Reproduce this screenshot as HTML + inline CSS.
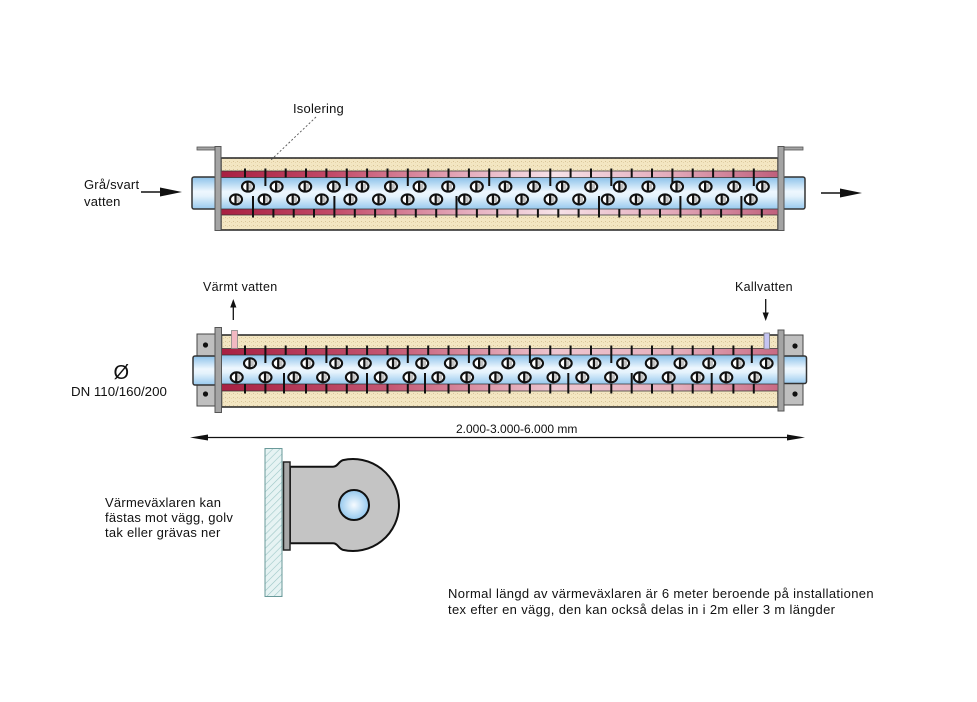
<!DOCTYPE html>
<html><head><meta charset="utf-8"><style>
html,body{margin:0;padding:0;background:#fff;}
svg{display:block;}
text{font-family:"Liberation Sans",Arial,sans-serif;fill:#111;}
</style></head><body>
<svg width="977" height="702" viewBox="0 0 977 702" xmlns="http://www.w3.org/2000/svg">
<defs>
<pattern id="ins" width="4" height="4" patternUnits="userSpaceOnUse"><rect width="4" height="4" fill="#f3e6c2"/><rect x="1" y="1" width="1" height="1" fill="#d8c498"/><rect x="3" y="2" width="1" height="1" fill="#e6d4aa"/></pattern>
<pattern id="hatch" width="5" height="5" patternUnits="userSpaceOnUse" patternTransform="rotate(45)"><rect width="5" height="5" fill="#e6f3f3"/><line x1="0" y1="0" x2="0" y2="5" stroke="#9cc6c6" stroke-width="1.2"/></pattern>
<linearGradient id="blue" x1="0" y1="0" x2="0" y2="1"><stop offset="0" stop-color="#8cc2ea"/><stop offset="0.45" stop-color="#eef7fe"/><stop offset="0.6" stop-color="#e4f2fc"/><stop offset="1" stop-color="#98c9ee"/></linearGradient>
<linearGradient id="band1" x1="221" y1="0" x2="778" y2="0" gradientUnits="userSpaceOnUse"><stop offset="0" stop-color="#a82042"/><stop offset="0.2" stop-color="#c24a68"/><stop offset="0.45" stop-color="#e6b0c0"/><stop offset="0.6" stop-color="#f6e2e8"/><stop offset="0.8" stop-color="#e4adbd"/><stop offset="1" stop-color="#c0607c"/></linearGradient>
<linearGradient id="band2" x1="221" y1="0" x2="778" y2="0" gradientUnits="userSpaceOnUse"><stop offset="0" stop-color="#a82042"/><stop offset="0.3" stop-color="#c45672"/><stop offset="0.6" stop-color="#eec6d0"/><stop offset="0.82" stop-color="#e4aebc"/><stop offset="1" stop-color="#c86a84"/></linearGradient>
<radialGradient id="hole" cx="0.5" cy="0.5" r="0.5"><stop offset="0" stop-color="#f6fbff"/><stop offset="1" stop-color="#94c8ee"/></radialGradient>
<g id="h"><ellipse cx="0" cy="0" rx="6" ry="5" fill="#fff" stroke="#111" stroke-width="2.1"/><rect x="0.6" y="-3" width="3.2" height="6" fill="#c4c4c4"/><line x1="-0.5" y1="-4.8" x2="-0.5" y2="4.8" stroke="#111" stroke-width="2.2"/></g>
</defs>

<!-- ============ TOP EXCHANGER ============ -->
<rect x="221" y="158" width="557" height="72" fill="url(#ins)" stroke="#222" stroke-width="1.5"/>
<rect x="221" y="171" width="557" height="6.5" fill="url(#band1)"/>
<rect x="221" y="177.5" width="557" height="31.5" fill="url(#blue)"/>
<rect x="221" y="209" width="557" height="6" fill="url(#band1)"/>
<g stroke="#333" stroke-width="0.8"><line x1="221" y1="171" x2="778" y2="171"/><line x1="221" y1="177.5" x2="778" y2="177.5"/><line x1="221" y1="209" x2="778" y2="209"/><line x1="221" y1="215" x2="778" y2="215"/></g>
<g stroke="#111" stroke-width="2">
<line x1="245" y1="168.5" x2="245" y2="177.5"/><line x1="265.4" y1="168.5" x2="265.4" y2="186"/><line x1="285.7" y1="168.5" x2="285.7" y2="177.5"/><line x1="306" y1="168.5" x2="306" y2="177.5"/><line x1="326.4" y1="168.5" x2="326.4" y2="177.5"/><line x1="346.8" y1="168.5" x2="346.8" y2="186"/><line x1="367.1" y1="168.5" x2="367.1" y2="177.5"/><line x1="387.5" y1="168.5" x2="387.5" y2="177.5"/><line x1="407.8" y1="168.5" x2="407.8" y2="186"/><line x1="428.2" y1="168.5" x2="428.2" y2="177.5"/><line x1="448.5" y1="168.5" x2="448.5" y2="177.5"/><line x1="468.9" y1="168.5" x2="468.9" y2="177.5"/><line x1="489.2" y1="168.5" x2="489.2" y2="186"/><line x1="509.6" y1="168.5" x2="509.6" y2="177.5"/><line x1="529.9" y1="168.5" x2="529.9" y2="177.5"/><line x1="550.3" y1="168.5" x2="550.3" y2="186"/><line x1="570.6" y1="168.5" x2="570.6" y2="177.5"/><line x1="591" y1="168.5" x2="591" y2="177.5"/><line x1="611.3" y1="168.5" x2="611.3" y2="186"/><line x1="631.7" y1="168.5" x2="631.7" y2="177.5"/><line x1="652" y1="168.5" x2="652" y2="177.5"/><line x1="672.4" y1="168.5" x2="672.4" y2="186"/><line x1="692.7" y1="168.5" x2="692.7" y2="177.5"/><line x1="713.1" y1="168.5" x2="713.1" y2="177.5"/><line x1="733.4" y1="168.5" x2="733.4" y2="177.5"/><line x1="753.8" y1="168.5" x2="753.8" y2="186"/>
<line x1="253" y1="196" x2="253" y2="217.5"/><line x1="273.4" y1="209" x2="273.4" y2="217.5"/><line x1="293.7" y1="209" x2="293.7" y2="217.5"/><line x1="314" y1="209" x2="314" y2="217.5"/><line x1="334.4" y1="196" x2="334.4" y2="217.5"/><line x1="354.8" y1="209" x2="354.8" y2="217.5"/><line x1="375.1" y1="209" x2="375.1" y2="217.5"/><line x1="395.5" y1="209" x2="395.5" y2="217.5"/><line x1="415.8" y1="209" x2="415.8" y2="217.5"/><line x1="436.2" y1="209" x2="436.2" y2="217.5"/><line x1="456.5" y1="196" x2="456.5" y2="217.5"/><line x1="476.9" y1="209" x2="476.9" y2="217.5"/><line x1="497.2" y1="209" x2="497.2" y2="217.5"/><line x1="517.6" y1="209" x2="517.6" y2="217.5"/><line x1="537.9" y1="209" x2="537.9" y2="217.5"/><line x1="558.3" y1="209" x2="558.3" y2="217.5"/><line x1="578.6" y1="209" x2="578.6" y2="217.5"/><line x1="599" y1="196" x2="599" y2="217.5"/><line x1="619.3" y1="209" x2="619.3" y2="217.5"/><line x1="639.7" y1="209" x2="639.7" y2="217.5"/><line x1="660" y1="209" x2="660" y2="217.5"/><line x1="680.4" y1="196" x2="680.4" y2="217.5"/><line x1="700.7" y1="209" x2="700.7" y2="217.5"/><line x1="721.1" y1="209" x2="721.1" y2="217.5"/><line x1="741.4" y1="196" x2="741.4" y2="217.5"/><line x1="761.8" y1="209" x2="761.8" y2="217.5"/>
</g>
<g>
<use href="#h" x="248" y="186.6"/><use href="#h" x="276.6" y="186.6"/><use href="#h" x="305.2" y="186.6"/><use href="#h" x="333.8" y="186.6"/><use href="#h" x="362.4" y="186.6"/><use href="#h" x="391" y="186.6"/><use href="#h" x="419.6" y="186.6"/><use href="#h" x="448.2" y="186.6"/><use href="#h" x="476.8" y="186.6"/><use href="#h" x="505.4" y="186.6"/><use href="#h" x="534" y="186.6"/><use href="#h" x="562.6" y="186.6"/><use href="#h" x="591.2" y="186.6"/><use href="#h" x="619.8" y="186.6"/><use href="#h" x="648.4" y="186.6"/><use href="#h" x="677" y="186.6"/><use href="#h" x="705.6" y="186.6"/><use href="#h" x="734.2" y="186.6"/><use href="#h" x="762.8" y="186.6"/>
<use href="#h" x="236" y="199.4"/><use href="#h" x="264.6" y="199.4"/><use href="#h" x="293.2" y="199.4"/><use href="#h" x="321.8" y="199.4"/><use href="#h" x="350.4" y="199.4"/><use href="#h" x="379" y="199.4"/><use href="#h" x="407.6" y="199.4"/><use href="#h" x="436.2" y="199.4"/><use href="#h" x="464.8" y="199.4"/><use href="#h" x="493.4" y="199.4"/><use href="#h" x="522" y="199.4"/><use href="#h" x="550.6" y="199.4"/><use href="#h" x="579.2" y="199.4"/><use href="#h" x="607.8" y="199.4"/><use href="#h" x="636.4" y="199.4"/><use href="#h" x="665" y="199.4"/><use href="#h" x="693.6" y="199.4"/><use href="#h" x="722.2" y="199.4"/><use href="#h" x="750.8" y="199.4"/>
</g>
<!-- stubs + flanges -->
<rect x="192" y="177" width="24" height="32" rx="2" fill="url(#blue)" stroke="#333" stroke-width="1.5"/>
<rect x="783" y="177" width="22" height="32" rx="2" fill="url(#blue)" stroke="#333" stroke-width="1.5"/>
<rect x="197" y="147" width="20" height="3" fill="#a4a4a4" stroke="#555" stroke-width="0.8"/>
<rect x="782" y="147" width="21" height="3" fill="#a4a4a4" stroke="#555" stroke-width="0.8"/>
<rect x="215" y="146.5" width="6" height="84" fill="#a4a4a4" stroke="#555" stroke-width="1"/>
<rect x="778" y="146.5" width="6" height="84" fill="#a4a4a4" stroke="#555" stroke-width="1"/>
<!-- arrows -->
<line x1="141" y1="192" x2="164" y2="192" stroke="#111" stroke-width="1.4"/>
<polygon points="160,187.5 182,192 160,196.5" fill="#111"/>
<line x1="821" y1="193" x2="844" y2="193" stroke="#111" stroke-width="1.4"/>
<polygon points="840,188.5 862,193 840,197.5" fill="#111"/>
<text x="84" y="189" font-size="13" letter-spacing="0.2">Grå/svart</text>
<text x="84" y="206" font-size="13" letter-spacing="0.2">vatten</text>
<text x="293" y="113" font-size="13" letter-spacing="0.2">Isolering</text>
<line x1="316" y1="117" x2="271" y2="160" stroke="#555" stroke-width="0.9" stroke-dasharray="2,2"/>

<!-- ============ SECOND EXCHANGER ============ -->
<rect x="197" y="334" width="18" height="72" fill="#bfbfbf" stroke="#444" stroke-width="1"/>
<circle cx="205.5" cy="345" r="2.6" fill="#111"/><circle cx="205.5" cy="394" r="2.6" fill="#111"/>
<rect x="784" y="335" width="19" height="70" fill="#bfbfbf" stroke="#444" stroke-width="1"/>
<circle cx="795" cy="346" r="2.6" fill="#111"/><circle cx="795" cy="394" r="2.6" fill="#111"/>
<rect x="221.5" y="335" width="556.5" height="72" fill="url(#ins)" stroke="#222" stroke-width="1.5"/>
<rect x="221.5" y="348.5" width="556.5" height="6.5" fill="url(#band2)"/>
<rect x="221.5" y="355" width="556.5" height="29" fill="url(#blue)"/>
<rect x="221.5" y="384" width="556.5" height="7" fill="url(#band2)"/>
<g stroke="#333" stroke-width="0.8"><line x1="221" y1="348.5" x2="778" y2="348.5"/><line x1="221" y1="355" x2="778" y2="355"/><line x1="221" y1="384" x2="778" y2="384"/><line x1="221" y1="391" x2="778" y2="391"/></g>
<g stroke="#111" stroke-width="2">
<line x1="245" y1="345.5" x2="245" y2="355"/><line x1="265.4" y1="345.5" x2="265.4" y2="363"/><line x1="285.7" y1="345.5" x2="285.7" y2="355"/><line x1="306" y1="345.5" x2="306" y2="355"/><line x1="326.4" y1="345.5" x2="326.4" y2="363"/><line x1="346.8" y1="345.5" x2="346.8" y2="355"/><line x1="367.1" y1="345.5" x2="367.1" y2="355"/><line x1="387.5" y1="345.5" x2="387.5" y2="355"/><line x1="407.8" y1="345.5" x2="407.8" y2="363"/><line x1="428.2" y1="345.5" x2="428.2" y2="355"/><line x1="448.5" y1="345.5" x2="448.5" y2="355"/><line x1="468.9" y1="345.5" x2="468.9" y2="363"/><line x1="489.2" y1="345.5" x2="489.2" y2="355"/><line x1="509.6" y1="345.5" x2="509.6" y2="355"/><line x1="529.9" y1="345.5" x2="529.9" y2="363"/><line x1="550.3" y1="345.5" x2="550.3" y2="355"/><line x1="570.6" y1="345.5" x2="570.6" y2="355"/><line x1="591" y1="345.5" x2="591" y2="355"/><line x1="611.3" y1="345.5" x2="611.3" y2="363"/><line x1="631.7" y1="345.5" x2="631.7" y2="355"/><line x1="652" y1="345.5" x2="652" y2="355"/><line x1="672.4" y1="345.5" x2="672.4" y2="355"/><line x1="692.7" y1="345.5" x2="692.7" y2="355"/><line x1="713.1" y1="345.5" x2="713.1" y2="355"/><line x1="733.4" y1="345.5" x2="733.4" y2="355"/><line x1="751.8" y1="345.5" x2="751.8" y2="363"/>
<line x1="245" y1="384" x2="245" y2="393.5"/><line x1="265.4" y1="384" x2="265.4" y2="393.5"/><line x1="284" y1="373" x2="284" y2="393.5"/><line x1="306" y1="384" x2="306" y2="393.5"/><line x1="326.4" y1="384" x2="326.4" y2="393.5"/><line x1="346.8" y1="384" x2="346.8" y2="393.5"/><line x1="367" y1="373" x2="367" y2="393.5"/><line x1="387.5" y1="384" x2="387.5" y2="393.5"/><line x1="407.8" y1="384" x2="407.8" y2="393.5"/><line x1="425" y1="373" x2="425" y2="393.5"/><line x1="448.5" y1="384" x2="448.5" y2="393.5"/><line x1="468.9" y1="384" x2="468.9" y2="393.5"/><line x1="489.2" y1="384" x2="489.2" y2="393.5"/><line x1="509.6" y1="384" x2="509.6" y2="393.5"/><line x1="529.9" y1="384" x2="529.9" y2="393.5"/><line x1="550.3" y1="384" x2="550.3" y2="393.5"/><line x1="568.3" y1="373" x2="568.3" y2="393.5"/><line x1="591" y1="384" x2="591" y2="393.5"/><line x1="611.3" y1="384" x2="611.3" y2="393.5"/><line x1="631.7" y1="373" x2="631.7" y2="393.5"/><line x1="652" y1="384" x2="652" y2="393.5"/><line x1="672.4" y1="384" x2="672.4" y2="393.5"/><line x1="692.7" y1="384" x2="692.7" y2="393.5"/><line x1="711.7" y1="373" x2="711.7" y2="393.5"/><line x1="733.4" y1="384" x2="733.4" y2="393.5"/><line x1="753.8" y1="384" x2="753.8" y2="393.5"/>
</g>
<g>
<use href="#h" x="250" y="363.3"/><use href="#h" x="278.7" y="363.3"/><use href="#h" x="307.4" y="363.3"/><use href="#h" x="336.1" y="363.3"/><use href="#h" x="364.8" y="363.3"/><use href="#h" x="393.5" y="363.3"/><use href="#h" x="422.2" y="363.3"/><use href="#h" x="450.9" y="363.3"/><use href="#h" x="479.6" y="363.3"/><use href="#h" x="508.3" y="363.3"/><use href="#h" x="537" y="363.3"/><use href="#h" x="565.7" y="363.3"/><use href="#h" x="594.4" y="363.3"/><use href="#h" x="623.1" y="363.3"/><use href="#h" x="651.8" y="363.3"/><use href="#h" x="680.5" y="363.3"/><use href="#h" x="709.2" y="363.3"/><use href="#h" x="737.9" y="363.3"/><use href="#h" x="766.6" y="363.3"/>
<use href="#h" x="236.7" y="377.3"/><use href="#h" x="265.5" y="377.3"/><use href="#h" x="294.3" y="377.3"/><use href="#h" x="323.1" y="377.3"/><use href="#h" x="351.9" y="377.3"/><use href="#h" x="380.7" y="377.3"/><use href="#h" x="409.5" y="377.3"/><use href="#h" x="438.3" y="377.3"/><use href="#h" x="467.1" y="377.3"/><use href="#h" x="495.9" y="377.3"/><use href="#h" x="524.7" y="377.3"/><use href="#h" x="553.5" y="377.3"/><use href="#h" x="582.3" y="377.3"/><use href="#h" x="611.1" y="377.3"/><use href="#h" x="639.9" y="377.3"/><use href="#h" x="668.7" y="377.3"/><use href="#h" x="697.5" y="377.3"/><use href="#h" x="726.3" y="377.3"/><use href="#h" x="755.1" y="377.3"/>
</g>
<rect x="193" y="356" width="23" height="29" rx="2" fill="url(#blue)" stroke="#333" stroke-width="1.5"/>
<rect x="783" y="356" width="23.5" height="27.5" rx="2" fill="url(#blue)" stroke="#333" stroke-width="1.5"/>
<rect x="215" y="327.5" width="6.5" height="85" fill="#a4a4a4" stroke="#555" stroke-width="1"/>
<rect x="778" y="330" width="6" height="81" fill="#a4a4a4" stroke="#555" stroke-width="1"/>
<rect x="231.5" y="330.5" width="6" height="18" fill="#f2b8c2" stroke="#888" stroke-width="0.8"/>
<rect x="764" y="333" width="5.5" height="16" fill="#c4c4f2" stroke="#777" stroke-width="0.8"/>
<line x1="233.3" y1="320" x2="233.3" y2="305" stroke="#111" stroke-width="1.3"/>
<polygon points="230.2,307.5 233.3,299 236.4,307.5" fill="#111"/>
<line x1="765.7" y1="299" x2="765.7" y2="314" stroke="#111" stroke-width="1.3"/>
<polygon points="762.6,312.5 765.7,321 768.8,312.5" fill="#111"/>
<text x="203" y="291" font-size="12.5" letter-spacing="0.3">Värmt vatten</text>
<text x="735" y="291" font-size="12.5" letter-spacing="0.3">Kallvatten</text>
<text x="113.5" y="379" font-size="20">Ø</text>
<text x="71" y="396" font-size="13.3">DN 110/160/200</text>

<!-- dimension -->
<line x1="196" y1="437.5" x2="799" y2="437.5" stroke="#111" stroke-width="1.3"/>
<polygon points="190,437.5 208,434.5 208,440.5" fill="#111"/>
<polygon points="805,437.5 787,434.5 787,440.5" fill="#111"/>
<text x="456" y="433" font-size="12">2.000-3.000-6.000 mm</text>

<!-- bracket -->
<rect x="265" y="448.5" width="17" height="148" fill="url(#hatch)" stroke="#6a9a9a" stroke-width="1"/>
<path d="M290,466.7 H333 C338,466.7 338.5,461.3 343,460.1 A46,46 0 1,1 343,549.9 C338.5,548.7 338,543.3 333,543.3 H290 Z" fill="#c4c4c4" stroke="#111" stroke-width="2"/>
<rect x="283.5" y="462" width="6.5" height="88" fill="#a8a8a8" stroke="#222" stroke-width="1.5"/>
<circle cx="354" cy="505" r="15" fill="url(#hole)" stroke="#111" stroke-width="2"/>

<text x="105" y="507" font-size="13" letter-spacing="0.25">Värmeväxlaren kan</text>
<text x="105" y="522" font-size="13" letter-spacing="0.25">fästas mot vägg, golv</text>
<text x="105" y="537" font-size="13" letter-spacing="0.25">tak eller grävas ner</text>

<text x="448" y="598" font-size="13" letter-spacing="0.35">Normal längd av värmeväxlaren är 6 meter beroende på installationen</text>
<text x="448" y="614" font-size="13" letter-spacing="0.35">tex efter en vägg, den kan också delas in i 2m eller 3 m längder</text>
</svg>
</body></html>
